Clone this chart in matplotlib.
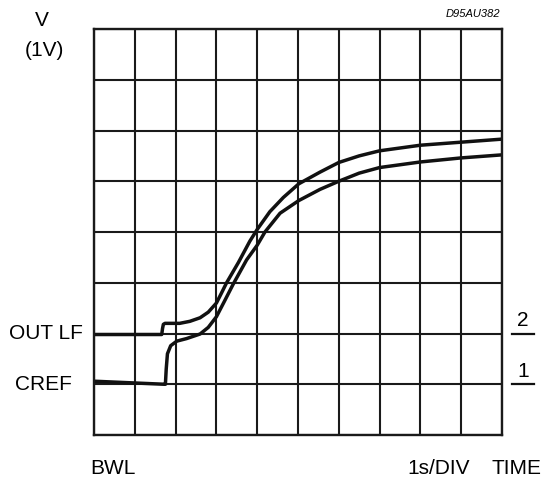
import numpy as np
import matplotlib
matplotlib.use('Agg')
import matplotlib.pyplot as plt

plt.rcParams['font.family'] = ['Liberation Sans', 'DejaVu Sans']

# scope screen: 10 horizontal divisions (1s/DIV), 8 vertical divisions (1V/DIV)
n_xdiv = 10
n_ydiv = 8

# trace 2 : OUT LF
t_out = [0, 1.66, 1.68, 1.70, 1.74, 2.1, 2.35, 2.6, 2.8, 3.0, 3.12, 3.25,
         3.54, 3.82, 4.0, 4.31, 4.64, 5.02, 5.54, 6.0, 6.5, 7.0, 8.0, 9.0, 10.0]
v_out = [1.98, 1.98, 2.10, 2.18, 2.2, 2.2, 2.24, 2.31, 2.42, 2.6, 2.79, 3.0,
         3.4, 3.82, 4.05, 4.4, 4.68, 4.95, 5.18, 5.37, 5.5, 5.6, 5.71, 5.77, 5.83]

# trace 1 : CREF
t_cref = [0, 1.72, 1.75, 1.77, 1.80, 1.88, 2.03, 2.27, 2.6, 2.8, 3.0, 3.2,
          3.41, 3.74, 4.0, 4.19, 4.56, 5.02, 5.54, 6.0, 6.5, 7.0, 8.0, 9.0, 10.0]
v_cref = [1.06, 1.0, 1.0, 1.3, 1.6, 1.76, 1.85, 1.9, 1.99, 2.12, 2.33, 2.64,
          2.97, 3.45, 3.74, 4.0, 4.37, 4.62, 4.84, 5.0, 5.16, 5.27, 5.38, 5.46, 5.52]

# ground level markers on the right
levels = [2, 1]
level_names = ['2', '1']
left_names = ['OUT LF', 'CREF']
left_x = [-0.28, -0.55]

W, H = 547, 483
fig = plt.figure(figsize=(W / 100, H / 100), dpi=100)
ax = fig.add_axes([94 / W, 1 - 435 / H, (502 - 94) / W, (435 - 29) / H])

ax.set_xlim(0, n_xdiv)
ax.set_ylim(0, n_ydiv)
ax.set_xticks(np.arange(n_xdiv + 1))
ax.set_yticks(np.arange(n_ydiv + 1))
ax.tick_params(length=0, labelbottom=False, labelleft=False)
ax.grid(True, color='#1a1a1a', linewidth=1.5)
for s in ax.spines.values():
    s.set_color('#1a1a1a')
    s.set_linewidth(1.7)

ax.plot(t_out, v_out, color='#111111', linewidth=2.5, solid_joinstyle='round')
ax.plot(t_cref, v_cref, color='#111111', linewidth=2.5, solid_joinstyle='round')

fs = 15
for lv, nm, ln, lx in zip(levels, level_names, left_names, left_x):
    ax.plot([10.25, 10.78], [lv, lv], color='#111111', linewidth=1.6, clip_on=False)
    ax.text(10.52, lv + 0.06, nm, ha='center', va='bottom', fontsize=fs)
    ax.text(lx, lv, ln, ha='right', va='center', fontsize=fs)

fig.text(42 / W, 1 - 21 / H, 'V', ha='center', va='center', fontsize=fs)
fig.text(44 / W, 1 - 50 / H, '(1V)', ha='center', va='center', fontsize=fs)
fig.text(500 / W, 1 - 14 / H, 'D95AU382', ha='right', va='center',
         fontsize=8, style='italic')
fig.text(113 / W, 1 - 469 / H, 'BWL', ha='center', va='center', fontsize=fs)
fig.text(439 / W, 1 - 469 / H, '1s/DIV', ha='center', va='center', fontsize=fs)
fig.text(517 / W, 1 - 469 / H, 'TIME', ha='center', va='center', fontsize=fs)

plt.savefig('out.png', dpi=100)
